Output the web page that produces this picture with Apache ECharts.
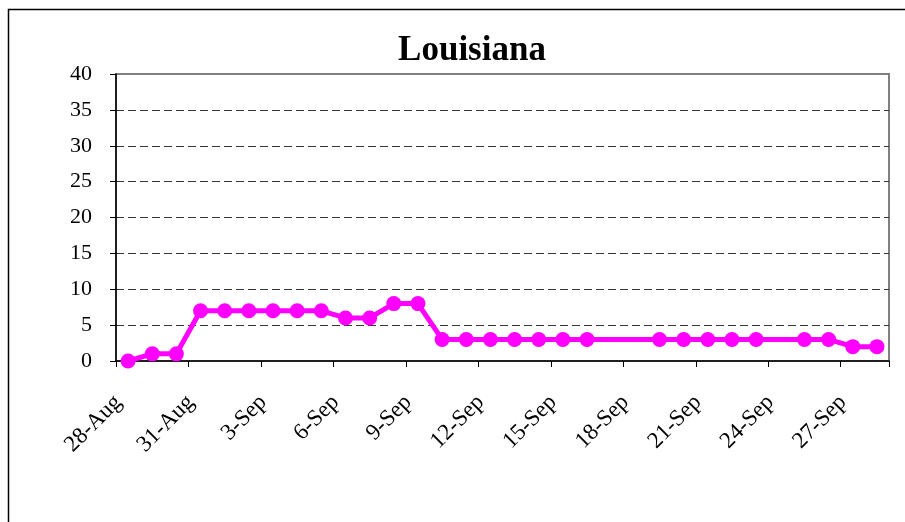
<!DOCTYPE html>
<html>
<head>
<meta charset="utf-8">
<script src="https://cdn.jsdelivr.net/npm/echarts@6/dist/echarts.min.js"></script>
<style>
  html, body { margin: 0; padding: 0; background: #fff; }
  #chart { width: 905px; height: 522px; }
</style>
</head>
<body>
<div id="chart"></div>
<script>
// daily dates, 28-Aug .. 28-Sep
const dates = [
  "28-Aug", "29-Aug", "30-Aug", "31-Aug",
  "1-Sep", "2-Sep", "3-Sep", "4-Sep", "5-Sep", "6-Sep", "7-Sep", "8-Sep",
  "9-Sep", "10-Sep", "11-Sep", "12-Sep", "13-Sep", "14-Sep", "15-Sep", "16-Sep",
  "17-Sep", "18-Sep", "19-Sep", "20-Sep", "21-Sep", "22-Sep", "23-Sep", "24-Sep",
  "25-Sep", "26-Sep", "27-Sep", "28-Sep"
];
// no report on 17, 18 and 24 Sep
const louisiana = [
  0, 1, 1, 7,
  7, 7, 7, 7, 7, 6, 6, 8,
  8, 3, 3, 3, 3, 3, 3, 3,
  null, null, 3, 3, 3, 3, 3, null,
  3, 3, 2, 2
];
const yTicks = { min: 0, max: 40, step: 5 };

const serif = '"Liberation Serif", "DejaVu Serif", serif';
const chart = echarts.init(document.getElementById("chart"));

chart.setOption({
  animation: false,
  backgroundColor: "#ffffff",
  title: {
    text: "Louisiana",
    left: 467,
    top: 28,
    textAlign: "center",
    textStyle: { fontFamily: serif, fontSize: 35, fontWeight: "bold", color: "#000" },
  },
  graphic: [
    {
      type: "rect",
      shape: { x: 8.5, y: 9.5, width: 1000, height: 1000 },
      style: { fill: "none", stroke: "#000", lineWidth: 1.5 },
      silent: true,
    },
  ],
  grid: {
    left: 116,
    top: 74,
    right: 16,
    bottom: 161,
    show: true,
    borderColor: "#808080",
    borderWidth: 2,
    backgroundColor: "transparent",
  },
  xAxis: {
    type: "category",
    data: dates,
    boundaryGap: true,
    axisLine: { lineStyle: { color: "#000", width: 1.5 } },
    axisTick: { show: true, interval: 2, length: 6, inside: false, lineStyle: { color: "#000" } },
    axisLabel: {
      interval: 2,
      rotate: 45,
      margin: 28,
      padding: [0, 14, 0, 0],
      fontFamily: serif,
      fontSize: 23,
      color: "#000",
    },
    splitLine: { show: false },
  },
  yAxis: {
    type: "value",
    min: yTicks.min,
    max: yTicks.max,
    interval: yTicks.step,
    axisLine: { show: true, lineStyle: { color: "#000", width: 1.5 } },
    axisTick: { show: true, length: 6, lineStyle: { color: "#000" } },
    axisLabel: { fontFamily: serif, fontSize: 22, color: "#000", margin: 24 },
    splitLine: { showMaxLine: false, showMinLine: false, lineStyle: { color: "#333", type: [8, 4], width: 1 } },
  },
  series: [
    {
      name: "Louisiana",
      type: "line",
      data: louisiana,
      connectNulls: true,
      symbol: "circle",
      symbolSize: 15,
      lineStyle: { color: "#ff00ff", width: 5 },
      itemStyle: { color: "#ff00ff" },
      z: 5,
    },
  ],
});
</script>
</body>
</html>
